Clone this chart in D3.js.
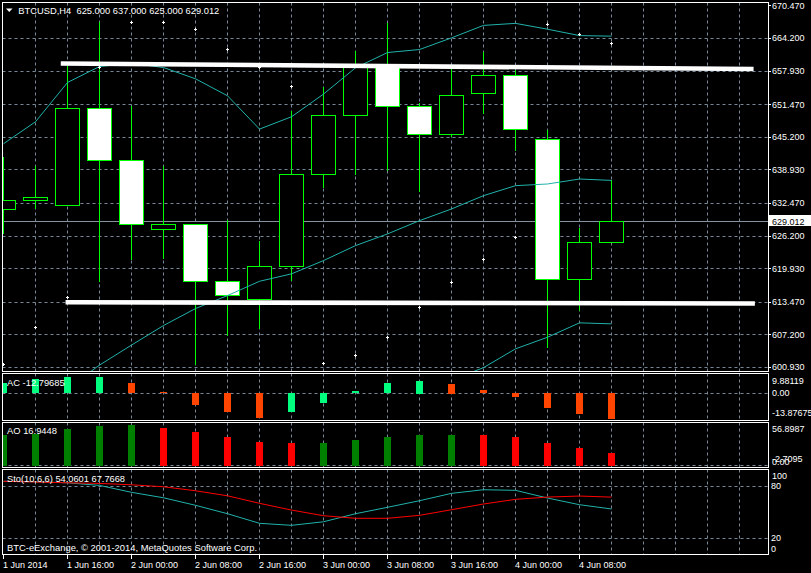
<!DOCTYPE html>
<html><head><meta charset="utf-8">
<script src="https://cdn.jsdelivr.net/npm/d3@7"></script>
<style>
html,body{margin:0;padding:0;background:#000;overflow:hidden}
svg{display:block}
text{font-family:"Liberation Sans",Arial,sans-serif;fill:#fff}
</style></head><body>
<svg id="c" width="811" height="573"></svg>
<script>
// ---------------- data ----------------
const symbol = "BTCUSD,H4";
const barTimes = ["1 Jun 08:00","1 Jun 12:00","1 Jun 16:00","1 Jun 20:00","2 Jun 00:00","2 Jun 04:00","2 Jun 08:00","2 Jun 12:00","2 Jun 16:00","2 Jun 20:00","3 Jun 00:00","3 Jun 04:00","3 Jun 08:00","3 Jun 12:00","3 Jun 16:00","3 Jun 20:00","4 Jun 00:00","4 Jun 04:00","4 Jun 08:00","4 Jun 12:00"];
const open  = [631.22,632.95,632.18,650.82,640.83,627.38,628.34,617.39,613.94,620.27,637.95,649.47,659.20,651.20,645.82,653.70,657.16,644.86,617.78,625.000];
const high  = [641.46,639.87,659.00,667.45,651.39,639.87,628.34,629.42,625.33,650.30,654.91,661.83,667.26,651.89,658.50,661.70,658.31,646.78,627.77,637.000];
const low   = [626.61,631.47,632.18,617.51,621.68,621.93,601.45,607.02,608.36,617.64,635.57,638.14,638.77,634.80,645.31,649.86,642.75,604.83,611.88,625.000];
const close = [632.95,633.53,650.82,640.83,628.34,628.34,617.39,614.70,620.27,637.95,649.47,658.60,651.20,645.82,653.32,657.16,646.78,617.78,625.00,629.012];

const bbUpper  = [643.96,648.19,655.74,658.81,659.42,658.62,656.45,653.18,646.78,649.15,653.51,658.56,661.50,662.08,664.32,666.72,667.11,665.99,664.76,664.65];
const bbMiddle = [590.75,593.63,596.90,601.39,605.24,609.00,612.27,614.77,617.51,618.94,621.49,624.37,626.62,629.17,631.42,633.98,635.90,636.22,637.18,636.91];
const bbLower  = [537.54,539.07,538.06,543.97,551.06,559.38,568.09,576.36,588.24,588.73,589.47,590.18,591.74,596.26,598.52,600.90,604.52,606.75,609.52,609.32];
const sar      = [601.50,608.66,614.43,658.62,667.34,667.34,665.99,662.15,658.62,655.04,601.75,603.33,606.75,612.39,617.20,621.62,625.84,666.95,665.03,663.30];

const trendTop    = [[1.79,659.39],[23.44,658.33]];
const trendBottom = [[1.94,613.47],[23.48,613.24]];

const ac = [4.93,6.91,7.90,8.10,5.08,0.62,-5.81,-9.62,-12.30,-9.62,-5.17,1.12,5.08,6.22,4.73,1.61,-2.20,-7.64,-10.61,-12.79685];
const ao = [40.5,42.2,48.4,52.3,53.6,49.7,44.5,37.9,31.4,30.0,30.3,34.0,37.9,40.5,40.7,40.3,37.9,30.0,23.5,16.9448];
const stoMain   = [86.0,85.5,84.3,81.3,73.3,67.0,58.3,48.6,37.5,35.2,39.3,48.6,56.0,63.6,72.1,76.3,75.6,66.7,59.0,54.0601];
const stoSignal = [86.0,85.2,84.3,83.6,82.0,79.7,75.1,69.3,60.6,52.8,46.3,43.3,43.3,46.7,53.2,59.8,65.2,67.8,69.0,67.7668];

const priceTicks = [670.47,664.2,657.93,651.47,645.2,638.93,632.47,626.2,619.93,613.47,607.2,600.93];
const acRange = [-13.87675, 9.88119];
const aoRange = [-2.7095, 56.8987];
const stoLevels = [80, 20];
const stoTicks = [100, 80, 20, 0];
const timeLabelIdx  = [0,2,4,6,8,10,12,14,16,18];
const timeLabelText = ["1 Jun 2014","1 Jun 16:00","2 Jun 00:00","2 Jun 08:00","2 Jun 16:00","3 Jun 00:00","3 Jun 08:00","3 Jun 16:00","4 Jun 00:00","4 Jun 08:00"];
const copyright = "BTC-eExchange, \u00A9 2001-2014, MetaQuotes Software Corp.";

// ---------------- layout / style ----------------
const GRID = "#778899", LIME = "#00FF00", BB = "#20B2AA";
const AC_UP = "#00FF7F", AC_DN = "#FF4500", AO_UP = "#008000", AO_DN = "#FF0000";
const FL = 2.5, FR = 768.5;
const P = {
  main:{top:2.5,bottom:371.5},
  ac:{top:373.5,bottom:420.5},
  ao:{top:422.5,bottom:467.5},
  sto:{top:469.5,bottom:554.5}
};
const svg = d3.select("#c");
svg.append("rect").attr("width",811).attr("height",573).attr("fill","#000");
const n = close.length;
const idx = d3.range(n);
const x = d3.scaleLinear().domain([0,23.9]).range([3.5,768.3]);
const y = d3.scaleLinear().domain([600.93,664.2]).range([367.5,38.5]);
const yAC = d3.scaleLinear().domain(acRange).range([421.3,373.3]);
const yAO = d3.scaleLinear().domain(aoRange).range([468,422.5]);
const ySto = d3.scaleLinear().domain([0,100]).range([555.8,469.2]);
const snap = v => Math.round(v-0.5)+0.5;
const gridIdx = d3.range(1,24);

const defs = svg.append("defs");
function clip(id,p){
  defs.append("clipPath").attr("id",id).append("rect")
    .attr("x",FL+0.5).attr("y",p.top+0.5).attr("width",FR-FL-1).attr("height",p.bottom-p.top-1);
  return "url(#"+id+")";
}
function vgrid(g,p){
  g.selectAll(null).data(gridIdx).join("line")
    .attr("x1",d=>x(d)).attr("x2",d=>x(d)).attr("y1",p.top).attr("y2",p.bottom)
    .attr("stroke",GRID).attr("stroke-dasharray","3,3");
}
function hline(g,yy,dash,color){
  g.append("line").attr("x1",FL).attr("x2",FR).attr("y1",snap(yy)).attr("y2",snap(yy))
    .attr("stroke",color||GRID).attr("stroke-dasharray",dash?"3,3":null);
}
function frame(p){
  svg.append("rect").attr("x",FL).attr("y",p.top).attr("width",FR-FL).attr("height",p.bottom-p.top)
    .attr("fill","none").attr("stroke","#fff");
}
function label(tx,xx,yy,len,size){
  const t = svg.append("text").attr("x",xx).attr("y",yy).attr("dy","0.35em")
    .attr("font-size",(size||9.4)+"px").style("white-space","pre").text(tx);
  if(len) t.attr("textLength",len).attr("lengthAdjust","spacingAndGlyphs");
  return t;
}
function rlabel(tx,yy,xx){
  svg.append("text").attr("x",xx||772).attr("y",yy).attr("dy","0.35em").attr("font-size","9px").text(tx);
}

// ---------------- main chart ----------------
const gm = svg.append("g").attr("clip-path",clip("cm",P.main));
vgrid(gm,P.main);
priceTicks.slice(1).forEach(v=>hline(gm,y(v),true));
hline(gm,y(close[n-1]),false,"#8592a0");

// candles
const cg = gm.append("g").attr("shape-rendering","crispEdges");
cg.selectAll("line.w").data(idx).join("line").attr("class","w")
  .attr("x1",i=>x(i)).attr("x2",i=>x(i))
  .attr("y1",i=>snap(y(high[i]))).attr("y2",i=>snap(y(low[i])))
  .attr("stroke",LIME);
cg.selectAll("rect.b").data(idx).join("rect").attr("class","b")
  .attr("x",i=>x(i)-12).attr("width",24)
  .attr("y",i=>snap(y(Math.max(open[i],close[i]))))
  .attr("height",i=>Math.max(0,snap(y(Math.min(open[i],close[i])))-snap(y(Math.max(open[i],close[i])))))
  .attr("fill",i=>close[i]>=open[i]?"#000":"#fff")
  .attr("stroke",LIME);

// bollinger
const ln = d3.line().x((d,i)=>x(i)).y(d=>y(d));
[bbUpper,bbMiddle,bbLower].forEach(s=>{
  gm.append("path").attr("d",ln(s)).attr("fill","none").attr("stroke",BB).attr("stroke-width",1);
});
// trend lines
[trendTop,trendBottom].forEach(t=>{
  gm.append("line").attr("x1",x(t[0][0])).attr("y1",y(t[0][1])).attr("x2",x(t[1][0])).attr("y2",y(t[1][1]))
    .attr("stroke","#fff").attr("stroke-width",4.6);
});
// SAR crosses
gm.append("g").attr("shape-rendering","crispEdges").selectAll("path").data(idx).join("path")
  .attr("d",i=>{const cx=x(i), cy=snap(y(sar[i])); return `M${cx-1.5},${cy}h3M${cx},${cy-1.5}v3`;})
  .attr("stroke","#fff").attr("fill","none");
frame(P.main);

// header
svg.append("path").attr("d","M6,8.5L12.5,8.5L9.25,12Z").attr("fill","#fff");
label(`${symbol}  ${[open[n-1],high[n-1],low[n-1],close[n-1]].map(d3.format(".3f")).join(" ")}`,18.3,10.5,201);

// price axis
const pa = svg.append("g").attr("transform",`translate(${FR-0.5},0)`)
  .call(d3.axisRight(y).tickValues(priceTicks).tickFormat(d3.format(".3f")).tickSize(3).tickPadding(1).offset(0));
pa.select(".domain").remove();
pa.selectAll("line").attr("stroke","#fff").attr("shape-rendering","crispEdges");
pa.selectAll("text").attr("fill","#fff").attr("font-size","9px").attr("font-family","Liberation Sans, Arial, sans-serif");
// current price box
const cy = y(close[n-1]);
svg.append("rect").attr("x",769).attr("y",Math.round(cy)-6).attr("width",42).attr("height",11).attr("fill","#fff");
svg.append("text").attr("x",772).attr("y",cy).attr("dy","0.35em").attr("font-size","9px").style("fill","#000").text(d3.format(".3f")(close[n-1]));

// ---------------- AC ----------------
const ga = svg.append("g").attr("clip-path",clip("ca",P.ac));
vgrid(ga,P.ac);
hline(ga,yAC(0),true);
ga.append("g").attr("shape-rendering","crispEdges").selectAll("rect").data(idx).join("rect")
  .attr("x",i=>x(i)-3.5).attr("width",7)
  .attr("y",i=>Math.round(Math.min(yAC(0),yAC(ac[i]))))
  .attr("height",i=>Math.max(1,Math.round(Math.abs(yAC(0)-yAC(ac[i])))))
  .attr("fill",i=>(i===0||ac[i]>ac[i-1])?AC_UP:AC_DN);
frame(P.ac);
label("AC "+ac[n-1].toFixed(5),7,382.3,57.7);
rlabel(acRange[1].toFixed(5),380.7);
rlabel("0.00",392.8);
rlabel(acRange[0].toFixed(5),412.7);

// ---------------- AO ----------------
const go = svg.append("g").attr("clip-path",clip("co",P.ao));
vgrid(go,P.ao);
hline(go,yAO(0),true);
go.append("g").attr("shape-rendering","crispEdges").selectAll("rect").data(idx).join("rect")
  .attr("x",i=>x(i)-3.5).attr("width",7)
  .attr("y",i=>Math.round(Math.min(yAO(0),yAO(ao[i]))))
  .attr("height",i=>Math.max(1,Math.round(Math.abs(yAO(0)-yAO(ao[i])))))
  .attr("fill",i=>(i===0||ao[i]>ao[i-1])?AO_UP:AO_DN);
frame(P.ao);
label("AO "+ao[n-1].toFixed(4),7,431,50);
rlabel(aoRange[1].toFixed(4),429.3);
rlabel("0.00",462);
rlabel(aoRange[0].toFixed(4),458.8);

// ---------------- Stochastic ----------------
const gs = svg.append("g").attr("clip-path",clip("cs",P.sto));
vgrid(gs,P.sto);
stoLevels.forEach(v=>hline(gs,ySto(v),true));
const ls = d3.line().x((d,i)=>x(i)).y(d=>ySto(d));
gs.append("path").attr("d",ls(stoMain)).attr("fill","none").attr("stroke",BB);
gs.append("path").attr("d",ls(stoSignal)).attr("fill","none").attr("stroke","#FF0000");
frame(P.sto);
label(`Sto(10,6,6) ${stoMain[n-1].toFixed(4)} ${stoSignal[n-1].toFixed(4)}`,7,478.3,118);
label(copyright,7,547.7,250);
const stoLabY = [476,486.3,537.5,548.7];
stoTicks.forEach((v,k)=>rlabel(String(v),stoLabY[k],v===100?772:771));

// ---------------- time axis ----------------
const ta = svg.append("g").attr("transform","translate(0,555)")
  .call(d3.axisBottom(x).tickValues(timeLabelIdx).tickFormat((d,k)=>timeLabelText[k]).tickSize(4).tickPadding(3).offset(0));
ta.select(".domain").remove();
ta.selectAll("line").attr("stroke","#fff").attr("shape-rendering","crispEdges");
ta.selectAll("text").attr("fill","#fff").attr("font-size","9px").attr("text-anchor","start")
  .attr("font-family","Liberation Sans, Arial, sans-serif").attr("x",-0.5);
</script>
</body></html>
